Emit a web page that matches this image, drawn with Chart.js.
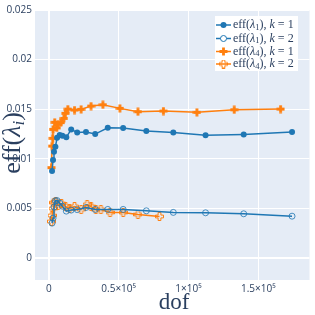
<!DOCTYPE html>
<html>
<head>
<meta charset="utf-8">
<script src="https://cdn.jsdelivr.net/npm/chart.js@4.4.1/dist/chart.umd.min.js"></script>
<style>
  html, body { margin: 0; padding: 0; background: #fff; }
  #wrap { width: 315px; height: 315px; position: relative; }
</style>
</head>
<body>
<div id="wrap"><canvas id="chart"></canvas></div>
<script>
// values
const blueK1X = [2300, 3000, 3700, 4700, 5900, 7800, 9700, 12500, 16000, 20300, 26600, 33200, 42200, 53200, 69800, 89100, 112200, 139500, 174100];
const blueK1Y = [0.00877, 0.00988, 0.01072, 0.01122, 0.01213, 0.0124, 0.01233, 0.01217, 0.01297, 0.01267, 0.0127, 0.0125, 0.01314, 0.01311, 0.0128, 0.01267, 0.01237, 0.01247, 0.0127];
const blueK2Y = [0.00353, 0.00403, 0.00514, 0.00578, 0.0058, 0.00554, 0.00524, 0.00474, 0.00484, 0.00489, 0.00511, 0.00491, 0.00491, 0.00491, 0.00477, 0.00461, 0.00457, 0.00447, 0.00423];

const orangeK1X = [1900, 2300, 2800, 3000, 4200, 5700, 6600, 8600, 10800, 11800, 13600, 18400, 23100, 30200, 38700, 50900, 63800, 82000, 106000, 132700, 165900];
const orangeK1Y = [0.00912, 0.01129, 0.01207, 0.01297, 0.01368, 0.01312, 0.0135, 0.01366, 0.01408, 0.01459, 0.01502, 0.01492, 0.01499, 0.01532, 0.01545, 0.01509, 0.01475, 0.01482, 0.01469, 0.01495, 0.01502];

const orangeK2X = [1900, 2300, 3000, 3700, 4900, 6600, 9000, 12000, 14800, 18400, 23100, 27400, 30200, 33700, 37300, 43800, 53200, 63800, 79200];
const orangeK2Y = [0.0037, 0.0043, 0.005, 0.0056, 0.0057, 0.0053, 0.0055, 0.0052, 0.005, 0.0052, 0.0049, 0.0054, 0.0052, 0.0049, 0.0049, 0.0046, 0.0046, 0.0044, 0.0042];

const xTicks = [0, 50000, 100000, 150000];
const xTickLabels = ['0', '0.5×10⁵', '1×10⁵', '1.5×10⁵'];
const yTicks = [0, 0.005, 0.01, 0.015, 0.02, 0.025];
const yTickLabels = ['0', '0.005', '0.01', '0.015', '0.02', '0.025'];

const BLUE = '#1f77b4';
const ORANGE = '#ff7f0e';
const TEXT = '#2a3f5f';

const toPoints = (xs, ys) => xs.map((x, i) => ({ x: x, y: ys[i] }));

// plus shaped markers (plotly "cross" / "cross-open")
function plusMarker(open) {
  const s = 9, t = 1.4, c = document.createElement('canvas');
  c.width = s; c.height = s;
  const g = c.getContext('2d');
  const m = s / 2;
  g.beginPath();
  g.moveTo(m - t, 0.5); g.lineTo(m + t, 0.5); g.lineTo(m + t, m - t); g.lineTo(s - 0.5, m - t);
  g.lineTo(s - 0.5, m + t); g.lineTo(m + t, m + t); g.lineTo(m + t, s - 0.5); g.lineTo(m - t, s - 0.5);
  g.lineTo(m - t, m + t); g.lineTo(0.5, m + t); g.lineTo(0.5, m - t); g.lineTo(m - t, m - t);
  g.closePath();
  if (open) {
    g.strokeStyle = ORANGE; g.lineWidth = 1; g.stroke();
  } else {
    g.fillStyle = ORANGE; g.fill();
  }
  return c;
}
const plusFilled = plusMarker(false);
const plusOpen = plusMarker(true);

const datasets = [
  { label: 'k1', data: toPoints(blueK1X, blueK1Y), borderColor: BLUE, backgroundColor: BLUE,
    pointStyle: 'circle', pointRadius: 3, pointBorderWidth: 0, borderWidth: 1.5 },
  { label: 'k2', data: toPoints(blueK1X, blueK2Y), borderColor: BLUE, backgroundColor: 'rgba(0,0,0,0)',
    pointStyle: 'circle', pointRadius: 3, pointBorderWidth: 1, borderWidth: 1.5, pointBorderColor: 'rgba(31,119,180,0.8)' },
  { label: 'k1', data: toPoints(orangeK1X, orangeK1Y), borderColor: ORANGE, backgroundColor: ORANGE,
    pointStyle: plusFilled, borderWidth: 1.5 },
  { label: 'k2', data: toPoints(orangeK2X, orangeK2Y), borderColor: ORANGE, backgroundColor: ORANGE,
    pointStyle: plusOpen, borderWidth: 1.5 }
];

const legendItems = [
  { sub: '1', k: '1', color: BLUE, marker: 'dot' },
  { sub: '1', k: '2', color: BLUE, marker: 'ring' },
  { sub: '4', k: '1', color: ORANGE, marker: plusFilled },
  { sub: '4', k: '2', color: ORANGE, marker: plusOpen }
];

const SERIF = '"Liberation Serif", "DejaVu Serif", serif';

function mathText(ctx, x, y, parts) {
  parts.forEach(p => {
    ctx.font = (p.it ? 'italic ' : '') + p.size + 'px ' + SERIF;
    ctx.fillText(p.t, x, y + (p.dy || 0));
    x += ctx.measureText(p.t).width;
  });
}

const decor = {
  id: 'decor',
  beforeDraw(chart) {
    const { ctx, chartArea: a } = chart;
    ctx.save();
    ctx.fillStyle = '#e5ecf6';
    ctx.fillRect(a.left, a.top, a.right - a.left, a.bottom - a.top);
    ctx.restore();
  },
  afterDraw(chart) {
    const ctx = chart.ctx;
    ctx.save();
    // legend box
    ctx.fillStyle = '#fff';
    ctx.fillRect(215, 16, 83, 55);
    const rows = [25, 38.5, 51.5, 64];
    legendItems.forEach((it, i) => {
      const y = rows[i];
      ctx.strokeStyle = it.color; ctx.lineWidth = 1.5;
      ctx.beginPath(); ctx.moveTo(216, y); ctx.lineTo(231, y); ctx.stroke();
      if (it.marker === 'dot') {
        ctx.fillStyle = it.color;
        ctx.beginPath(); ctx.arc(223.5, y, 3, 0, Math.PI * 2); ctx.fill();
      } else if (it.marker === 'ring') {
        ctx.fillStyle = '#fff';
        ctx.strokeStyle = it.color; ctx.lineWidth = 1;
        ctx.beginPath(); ctx.arc(223.5, y, 3, 0, Math.PI * 2); ctx.fill(); ctx.stroke();
      } else {
        ctx.drawImage(it.marker, 223.5 - it.marker.width / 2, y - it.marker.height / 2);
      }
      ctx.fillStyle = TEXT;
      ctx.textBaseline = 'middle';
      mathText(ctx, 233, y, [
        { t: 'eff(', size: 12 },
        { t: 'λ', size: 12, it: true },
        { t: it.sub, size: 8.5, dy: 2.5 },
        { t: '), ', size: 12 },
        { t: 'k', size: 12, it: true },
        { t: ' = ' + it.k, size: 12 }
      ]);
    });
    // axis titles
    ctx.fillStyle = TEXT;
    ctx.textBaseline = 'alphabetic';
    ctx.font = '23px ' + SERIF;
    ctx.textAlign = 'center';
    ctx.fillText('dof', 174, 309);
    ctx.translate(20, 143);
    ctx.rotate(-Math.PI / 2);
    ctx.textAlign = 'left';
    ctx.font = '26px ' + SERIF;
    const w = ctx.measureText('eff(').width + ctx.measureText(')').width;
    ctx.font = 'italic 26px ' + SERIF;
    const wl = ctx.measureText('λ').width;
    ctx.font = 'italic 17px ' + SERIF;
    const wi = ctx.measureText('i').width;
    mathText(ctx, -(w + wl + wi) / 2, 0, [
      { t: 'eff(', size: 26 },
      { t: 'λ', size: 26, it: true },
      { t: 'i', size: 17, it: true, dy: 4 },
      { t: ')', size: 26 }
    ]);
    ctx.restore();
  }
};

new Chart(document.getElementById('chart'), {
  type: 'line',
  data: { datasets: datasets },
  plugins: [decor],
  options: {
    responsive: true,
    maintainAspectRatio: false,
    animation: false,
    layout: { padding: { top: 10, right: 2, left: 0, bottom: 0 } },
    plugins: { legend: { display: false }, tooltip: { enabled: false } },
    elements: { line: { tension: 0 } },
    scales: {
      x: {
        type: 'linear',
        min: -9900,
        max: 186600,
        afterBuildTicks: s => { s.ticks = xTicks.map(v => ({ value: v })); },
        afterFit: s => { s.height = 35; },
        grid: {
          color: '#fff',
          lineWidth: ctx => ctx.tick && ctx.tick.value === 0 ? 2 : 1,
          drawTicks: false
        },
        border: { display: false },
        ticks: {
          callback: (v, i) => xTickLabels[i],
          color: TEXT, font: { family: '"Open Sans"', size: 10 }, padding: 3, maxRotation: 0
        }
      },
      y: {
        type: 'linear',
        min: -0.0022,
        max: 0.025,
        afterBuildTicks: s => { s.ticks = yTicks.map(v => ({ value: v })); },
        afterFit: s => { s.width = 35; },
        grid: {
          color: '#fff',
          lineWidth: ctx => ctx.tick && ctx.tick.value === 0 ? 2 : 1,
          drawTicks: false
        },
        border: { display: false },
        ticks: {
          callback: (v, i) => yTickLabels[i],
          color: TEXT, font: { family: '"Open Sans"', size: 10 }, padding: 3
        }
      }
    }
  }
});
</script>
</body>
</html>
